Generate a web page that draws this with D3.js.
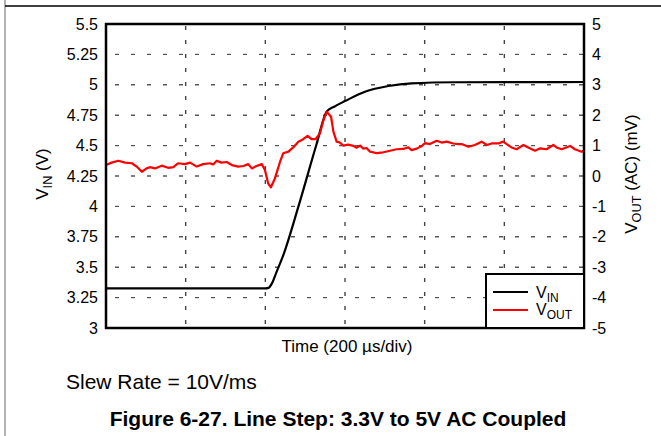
<!DOCTYPE html>
<html><head><meta charset="utf-8">
<script src="https://cdn.jsdelivr.net/npm/d3@7"></script>
<style>body{margin:0;background:#fff} svg{display:block;font-family:"Liberation Sans",Arial,sans-serif}</style>
</head><body><svg id="c" width="661" height="436"></svg>
<script>
// ---- data ----
const vinTicks = [3, 3.25, 3.5, 3.75, 4, 4.25, 4.5, 4.75, 5, 5.25, 5.5];
const vinTickLabels = ["3", "3.25", "3.5", "3.75", "4", "4.25", "4.5", "4.75", "5", "5.25", "5.5"];
const voutTicks = [-5, -4, -3, -2, -1, 0, 1, 2, 3, 4, 5];
const voutTickLabels = ["-5", "-4", "-3", "-2", "-1", "0", "1", "2", "3", "4", "5"];
const timeGrid = [0, 200, 400, 600, 800, 1000, 1200]; // µs, 200 µs/div

// V_IN (V) vs time (µs)
const vinTime = [0, 400, 408, 417, 428, 443, 483, 528, 554, 574, 600, 650, 709, 767, 876, 1200];
const vinVolt = [3.326, 3.326, 3.33, 3.37, 3.46, 3.58, 3.998, 4.505, 4.779, 4.822, 4.866, 4.943, 4.99, 5.012, 5.021, 5.023];

// V_OUT (AC) (mV) vs time (µs)
const voutTime = [0, 14, 31, 48, 65, 77, 90, 102, 110, 123, 140, 156, 169, 181, 198, 211, 228, 244, 261, 269, 278, 290, 303, 316, 332, 345, 357, 366, 378, 391, 399, 407, 414, 424, 437, 445, 458, 470, 483, 495, 506, 516, 526, 537, 546, 554, 565, 571, 579, 587, 596, 608, 621, 629, 638, 646, 654, 663, 680, 696, 713, 730, 746, 759, 767, 780, 793, 801, 813, 830, 843, 855, 872, 884, 893, 910, 926, 943, 956, 968, 985, 997, 1006, 1018, 1031, 1048, 1060, 1077, 1090, 1106, 1123, 1131, 1144, 1165, 1177, 1194, 1200];
const voutMv = [0.36, 0.44, 0.50, 0.44, 0.42, 0.31, 0.14, 0.25, 0.29, 0.25, 0.34, 0.27, 0.29, 0.42, 0.39, 0.44, 0.31, 0.39, 0.42, 0.38, 0.50, 0.44, 0.46, 0.36, 0.31, 0.33, 0.39, 0.25, 0.33, 0.39, 0.20, -0.24, -0.37, -0.08, 0.47, 0.75, 0.80, 0.94, 1.13, 1.21, 1.32, 1.21, 1.21, 1.40, 1.84, 2.11, 1.95, 1.45, 1.13, 1.10, 1.00, 1.03, 0.99, 0.93, 1.00, 0.90, 0.92, 0.80, 0.75, 0.78, 0.83, 0.88, 0.89, 0.94, 0.85, 0.90, 0.99, 1.08, 1.05, 1.16, 1.10, 1.13, 1.07, 1.05, 1.05, 0.96, 1.02, 1.13, 1.02, 1.07, 1.07, 1.13, 1.05, 0.94, 0.88, 1.02, 0.94, 0.83, 0.91, 0.88, 1.02, 0.94, 0.88, 0.99, 0.88, 0.80, 0.84];

// ---- layout ----
const L = 106, R = 584, T = 24, B = 328;
const svg = d3.select("#c");
const x = d3.scaleLinear().domain([0, 1200]).range([L, R]);
const yL = d3.scaleLinear().domain([3, 5.5]).range([B, T]);
const yR = d3.scaleLinear().domain([-5, 5]).range([B, T]);

// page frame
svg.append("line").attr("x1", 5).attr("x2", 5).attr("y1", 0).attr("y2", 436).attr("stroke", "#999").attr("stroke-width", 1.5);
svg.append("line").attr("x1", 5).attr("x2", 661).attr("y1", 6).attr("y2", 6).attr("stroke", "#000").attr("stroke-width", 1.5);

// grid
const g = svg.append("g");
g.selectAll(".hg").data(vinTicks.filter(v => v > 3 && v < 5.5)).enter().append("line")
  .attr("x1", L + 9).attr("x2", R).attr("y1", d => yL(d)).attr("y2", d => yL(d))
  .attr("stroke", "#555").attr("stroke-width", 1.4).attr("stroke-dasharray", "4,12");
g.selectAll(".vg").data(timeGrid.filter(t => t > 0 && t < 1200)).enter().append("line")
  .attr("x1", d => x(d)).attr("x2", d => x(d)).attr("y1", T + 2).attr("y2", B)
  .attr("stroke", "#444").attr("stroke-width", 1.4).attr("stroke-dasharray", "4,10");

// clip
svg.append("clipPath").attr("id", "clip").append("rect").attr("x", L).attr("y", T).attr("width", R - L).attr("height", B - T);

// lines
const vinLine = d3.line().x((d, i) => x(vinTime[i])).y(d => yL(d)).curve(d3.curveMonotoneX);
svg.append("path").attr("d", vinLine(vinVolt)).attr("fill", "none").attr("stroke", "#000").attr("stroke-width", 2.2).attr("clip-path", "url(#clip)");
const voutLine = d3.line().x((d, i) => x(voutTime[i])).y(d => yR(d));
svg.append("path").attr("d", voutLine(voutMv)).attr("fill", "none").attr("stroke", "#ff0000").attr("stroke-width", 2.2).attr("stroke-linejoin", "round").attr("clip-path", "url(#clip)");

// axes (labels only)
const axL = d3.axisLeft(yL).tickValues(vinTicks).tickFormat((d, i) => vinTickLabels[i]).tickSize(0).tickPadding(8);
const gl = svg.append("g").attr("transform", `translate(${L},0)`).call(axL);
gl.select(".domain").remove();
gl.selectAll("text").attr("font-size", 16).attr("font-family", "Liberation Sans, Arial, sans-serif").attr("fill", "#000");
const axR = d3.axisRight(yR).tickValues(voutTicks).tickFormat((d, i) => voutTickLabels[i]).tickSize(0).tickPadding(8);
const gr = svg.append("g").attr("transform", `translate(${R},0)`).call(axR);
gr.select(".domain").remove();
gr.selectAll("text").attr("font-size", 16).attr("font-family", "Liberation Sans, Arial, sans-serif").attr("fill", "#000");

// plot border
svg.append("rect").attr("x", L).attr("y", T).attr("width", R - L).attr("height", B - T)
  .attr("fill", "none").attr("stroke", "#000").attr("stroke-width", 2.5);

// legend
const lg = svg.append("g");
lg.append("rect").attr("x", 486).attr("y", 274).attr("width", R - 486).attr("height", B - 274)
  .attr("fill", "#fff").attr("stroke", "#000").attr("stroke-width", 2);
lg.append("line").attr("x1", 493).attr("x2", 528).attr("y1", 292).attr("y2", 292).attr("stroke", "#000").attr("stroke-width", 2.2);
lg.append("line").attr("x1", 493).attr("x2", 528).attr("y1", 310).attr("y2", 310).attr("stroke", "#ff0000").attr("stroke-width", 2.2);
function vlabel(sel, main, sub, rest) {
  sel.append("tspan").text(main);
  sel.append("tspan").attr("font-size", "0.75em").attr("dy", 4).text(sub);
  if (rest) sel.append("tspan").attr("dy", -4).text(rest);
}
const t1 = lg.append("text").attr("x", 536).attr("y", 298).attr("font-size", 16);
vlabel(t1, "V", "IN");
const t2 = lg.append("text").attr("x", 536).attr("y", 315).attr("font-size", 16);
vlabel(t2, "V", "OUT");

// axis titles
const at1 = svg.append("text").attr("transform", "translate(48,174) rotate(-90)").attr("text-anchor", "middle").attr("font-size", 17);
vlabel(at1, "V", "IN", " (V)");
const at2 = svg.append("text").attr("transform", "translate(637,174) rotate(-90)").attr("text-anchor", "middle").attr("font-size", 17);
vlabel(at2, "V", "OUT", " (AC) (mV)");
svg.append("text").attr("x", 347).attr("y", 352).attr("text-anchor", "middle").attr("font-size", 17).text("Time (200 µs/div)");

svg.append("text").attr("x", 66).attr("y", 389).attr("font-size", 21).text("Slew Rate = 10V/ms");
svg.append("text").attr("x", 338).attr("y", 426).attr("text-anchor", "middle").attr("font-size", 21).attr("font-weight", "bold").text("Figure 6-27. Line Step: 3.3V to 5V AC Coupled");
</script></body></html>
